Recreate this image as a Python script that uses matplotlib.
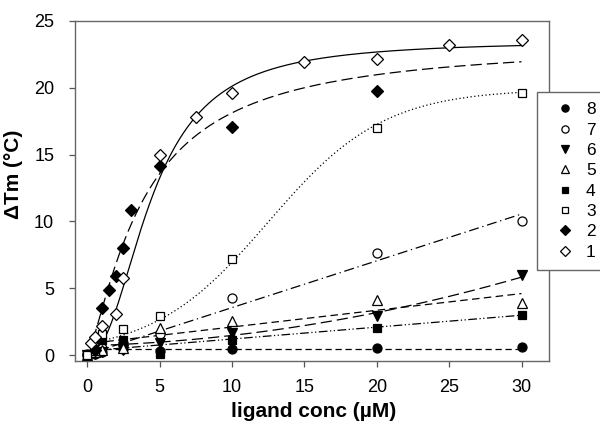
import numpy as np
import matplotlib.pyplot as plt
from matplotlib.lines import Line2D

plt.rcParams['font.family'] = ['Liberation Sans', 'DejaVu Sans']

# -------- DATA --------
x_low = [0, 0.5, 1, 2.5, 5, 10, 20, 30]
y_s8 = [0.0, 0.1, 0.2, 0.45, 0.3, 0.42, 0.5, 0.6]
y_s7 = [0.05, 0.2, 0.5, 0.9, 1.55, 4.3, 7.65, 10.05]
y_s6 = [0.0, 0.1, 0.2, 0.4, 0.9, 1.62, 2.95, 6.0]
y_s5 = [0.0, 0.2, 0.4, 0.5, 2.05, 2.55, 4.15, 3.9]
y_s4 = [0.0, 0.3, 1.1, 1.15, 0.05, 1.12, 2.03, 2.99]
y_s3 = [0.0, 0.3, 1.6, 1.95, 2.92, 7.2, 17.0, 19.57]

x_s2 = [0.5, 1, 1.5, 2, 2.5, 3, 5, 10, 20]
y_s2 = [0.4, 3.49, 4.86, 5.93, 7.98, 10.85, 14.16, 17.08, 19.75]

x_s1 = [0.25, 0.5, 1, 2, 2.5, 5, 7.5, 10, 15, 20, 25, 30]
y_s1 = [0.92, 1.37, 2.17, 3.07, 5.73, 14.96, 17.78, 19.57, 21.94, 22.14, 23.16, 23.56]

# fitted curves (parameters estimated from the drawn lines)
hill_s1 = [23.5, 4.45, 2.2]      # Vmax, K, n
hill_s2 = [23.5, 3.93, 1.3]
sig_s3 = [19.9, 12.5, 4.0]       # a, x0, b
poly_s7 = [0.35, 0.05]
poly_s6 = [0.0047, 0.03, 0.7]
poly_s5 = [0.125, 0.85]
poly_s4 = [0.089, 0.31]
poly_s8 = [0.0, 0.45]

labels = ["8", "7", "6", "5", "4", "3", "2", "1"]


def hill(x, p):
    return p[0] * x ** p[2] / (p[1] ** p[2] + x ** p[2])


def sigmoid(x, p):
    return p[0] / (1 + np.exp(-(x - p[1]) / p[2]))


fig = plt.figure(figsize=(6, 4.34), dpi=100)
ax = fig.add_axes([0.125, 0.168, 0.79, 0.784])

lw = 0.9
xs = np.linspace(0.5, 30, 300)
x1 = np.linspace(1.0, 30, 300)
x2 = np.linspace(0.4, 30, 300)
ax.plot(x1, hill(x1, hill_s1), color="k", lw=lw)
ax.plot(x2, hill(x2, hill_s2), color="k", lw=lw, dashes=(9, 4))
ax.plot(xs, sigmoid(xs, sig_s3), color="k", lw=lw, dashes=(1, 2))
ax.plot(xs, np.polyval(poly_s7, xs), color="k", lw=lw, dashes=(8, 3, 1, 3))
ax.plot(xs, np.polyval(poly_s6, xs), color="k", lw=lw, dashes=(9, 4))
ax.plot(xs, np.polyval(poly_s5, xs), color="k", lw=lw, dashes=(6, 3.5))
ax.plot(xs, np.polyval(poly_s4, xs), color="k", lw=lw, dashes=(7, 2, 1, 2, 1, 2))
ax.plot(xs, np.polyval(poly_s8, xs), color="k", lw=lw, dashes=(5, 3))

# -------- MARKERS --------
ms = 6.5
styles = [
    (x_low, y_s8, "o", "k", ms),
    (x_low, y_s7, "o", "white", ms),
    (x_low, y_s6, "v", "k", ms + 1),
    (x_low, y_s5, "^", "white", ms + 1),
    (x_low, y_s4, "s", "k", ms - 0.5),
    (x_low, y_s3, "s", "white", ms - 0.5),
    (x_s2, y_s2, "D", "k", ms),
    (x_s1, y_s1, "D", "white", ms),
]
handles = []
for (x, y, m, fc, s), lab in zip(styles, labels):
    ax.plot(x, y, linestyle="none", marker=m, markerfacecolor=fc,
            markeredgecolor="k", markersize=s, markeredgewidth=0.9, zorder=3)
    handles.append(Line2D([], [], linestyle="none", marker=m, markerfacecolor=fc,
                          markeredgecolor="k", markersize=s * 0.8, markeredgewidth=0.9))

ax.set_xlim(-0.85, 31.9)
ax.set_ylim(-0.45, 25)
ax.set_xticks([0, 5, 10, 15, 20, 25, 30])
ax.set_yticks([0, 5, 10, 15, 20, 25])
ax.tick_params(direction="out", length=4, width=0.9, labelsize=13, color="#555555")
ax.tick_params(axis="y", pad=11)
ax.tick_params(axis="x", pad=9)
for sp in ax.spines.values():
    sp.set_color("#666666")
    sp.set_linewidth(1.0)

ax.set_xlabel("ligand conc (\u00b5M)", fontsize=15, fontweight="bold")
ax.set_ylabel("\u0394Tm (\u00b0C)", fontsize=15, fontweight="bold")
ax.xaxis.set_label_coords(0.503, -0.12)
ax.yaxis.set_label_coords(-0.11, 0.55)

leg = ax.legend(handles, labels, loc="upper left",
                bbox_to_anchor=(0.8955, 0.7887), bbox_transform=fig.transFigure,
                borderaxespad=0, fontsize=12.5, labelspacing=0.3, borderpad=0.6,
                handlelength=2.0, handletextpad=0.2, fancybox=False, framealpha=1)
leg.get_frame().set_edgecolor("#666666")
leg.get_frame().set_linewidth(1.0)

fig.savefig("out.png", dpi=100)
